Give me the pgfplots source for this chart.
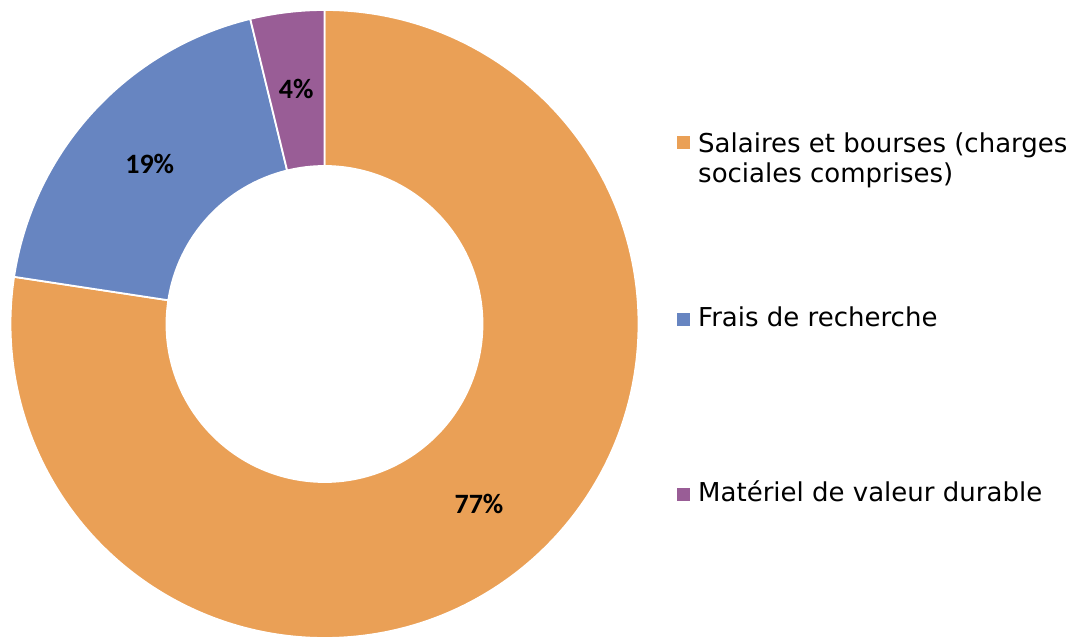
\documentclass[border=0pt]{standalone}
\usepackage{pgfplots}
\pgfplotsset{compat=1.18}
\usepackage{pgfplotstable}
\usepackage{fontspec}
\setmainfont{DejaVu Sans}
\newfontfamily\carlito{Carlito}
\definecolor{cOr}{RGB}{234,160,86}
\definecolor{cBl}{RGB}{103,133,193}
\definecolor{cPu}{RGB}{153,93,150}

\pgfplotstableread{
label value
Salaires 77.4
Frais 18.8
Materiel 3.8
}\datatable

\newcommand{\donutwedge}[3]{%
  \fill[#3, draw=white, line width=1.8pt] (axis cs:324.5,315) ++(#1:314pt)
    arc[start angle=#1, end angle=#2, radius=314pt]
    -- ++({#2+180}:156pt)
    arc[start angle=#2, end angle=#1, radius=158pt] -- cycle;}
\newcommand{\donutlabel}[2]{%
  \node[font=\carlito\bfseries\fontsize{28}{34}\selectfont]
    at (axis cs:{324.5+237*cos(#1)},{315+237*sin(#1)}) {\pgfmathprintnumber[fixed,precision=0,assume math mode=true]{#2}\%};}

\begin{document}
\begin{tikzpicture}
\pgfplotstablegetelem{0}{value}\of\datatable \let\vA\pgfplotsretval
\pgfplotstablegetelem{1}{value}\of\datatable \let\vB\pgfplotsretval
\pgfplotstablegetelem{2}{value}\of\datatable \let\vC\pgfplotsretval
\pgfmathsetmacro\aO{90}
\pgfmathsetmacro\aA{90-3.6*\vA}
\pgfmathsetmacro\aB{\aA-3.6*\vB}
\pgfmathsetmacro\aC{\aB-3.6*\vC}
\pgfmathsetmacro\mA{(\aO+\aA)/2}
\pgfmathsetmacro\mB{(\aA+\aB)/2}
\pgfmathsetmacro\mC{(\aB+\aC)/2}
\pgfmathsetmacro\pA{round(\vA)}
\pgfmathsetmacro\pB{round(\vB)}
\pgfmathsetmacro\pC{round(\vC)}
\begin{axis}[x=1pt,y=1pt,xmin=0,xmax=1078,ymin=0,ymax=639,
  hide axis, clip=false]
\path (axis cs:0,0) rectangle (axis cs:1078,639);
\donutwedge{\aO}{\aA}{cOr}
\donutwedge{\aA}{\aB}{cBl}
\donutwedge{\aB}{\aC}{cPu}
\donutlabel{\mA}{\pA}
\donutlabel{\mB}{\pB}
\donutlabel{\mC}{\pC}
% legend
\fill[cOr] (axis cs:677,489.5) rectangle (axis cs:690,502.5);
\fill[cBl] (axis cs:677,312.5) rectangle (axis cs:690,325.5);
\fill[cPu] (axis cs:677,137.5) rectangle (axis cs:690,150.5);
\begin{scope}[every node/.style={anchor=base west, inner sep=0pt, font=\fontsize{26}{31}\selectfont}]
\node at (axis cs:698,486) {Salaires et bourses (charges};
\node at (axis cs:698,456) {sociales comprises)};
\node at (axis cs:698,312) {Frais de recherche};
\node at (axis cs:698,137) {Matériel de valeur durable};
\end{scope}
\end{axis}
\end{tikzpicture}
\end{document}
